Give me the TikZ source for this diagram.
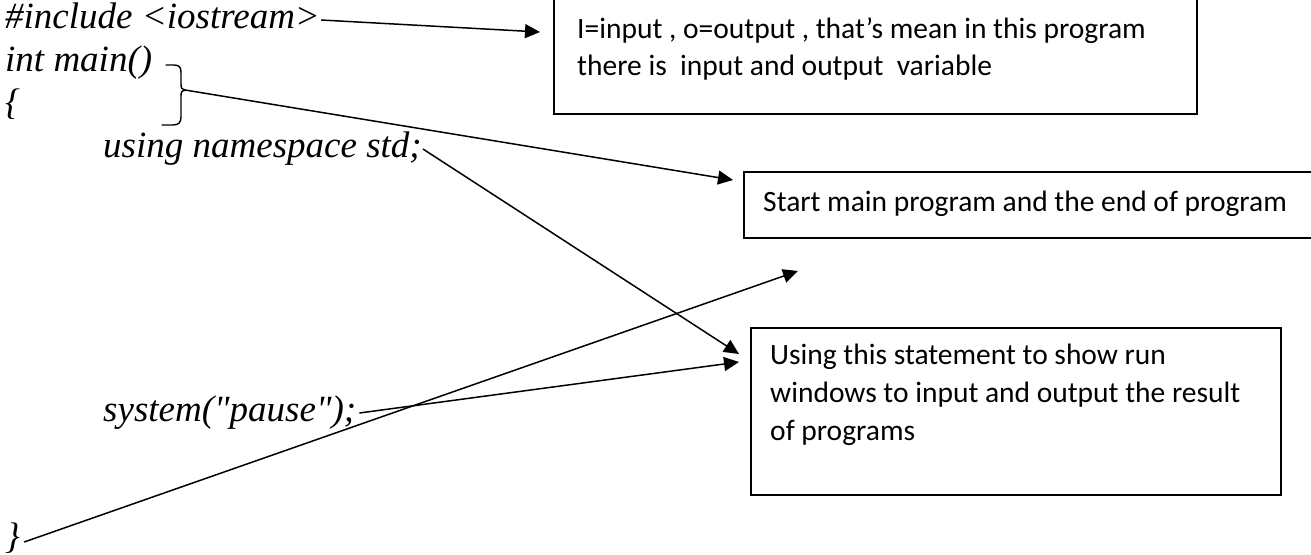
\documentclass[tikz,border=0pt]{standalone}
\usepackage{fontspec}
\setmainfont{Liberation Serif}
\newfontfamily\notefont{Carlito}
\usetikzlibrary{arrows.meta}
\begin{document}
\begin{tikzpicture}[x=1pt,y=-1pt,
  code/.style={font=\fontsize{37}{44}\selectfont\itshape, anchor=base west, inner sep=0pt},
  note/.style={font=\notefont\fontsize{29.5}{36}\selectfont, anchor=base west, inner sep=0pt},
  frame/.style={draw, line width=1.6pt, anchor=north west, inner sep=0pt},
  conn/.style={line width=1.5pt, -{Triangle[length=15pt,width=14pt]}},
]
\useasboundingbox (0,0) rectangle (1311,554);
\fill[white] (0,0) rectangle (1311,554);

% code lines
\node[code] (inc) at (5,28) {\#include <iostream>};
\node[code] (main) at (5,71) {int main()};
\node[code] (open) at (5,114) {\{};
\node[code] (using) at (103,157) {using namespace std;};
\node[code] (sys) at (103,421) {system(\textquotedbl pause\textquotedbl);};
\node[code] (close) at (5,548) {\}};

% brace
\coordinate (tip) at (185,90);
\draw[line width=1.4pt, line cap=round]
  (166,65) -- (174,65) .. controls (180,65) and (181,68) .. (181,73)
  -- (181,84) .. controls (181,88) and (182,90) .. (tip)
  .. controls (182,90) and (181,92) .. (181,96)
  -- (181,117) .. controls (181,122) and (179,125) .. (173,125) -- (162,125);

% boxes
\node[frame, minimum width=643pt, minimum height=118pt] (b1) at (553,-5) {};
\node[frame, minimum width=600pt, minimum height=66pt] (b2) at (743,171) {};
\node[frame, minimum width=530pt, minimum height=167pt] (b3) at (750,327) {};

% notes
\node[note] (n1a) at (577,38) {I=input , o=output , that’s mean in this program};
\node[note] (n1b) at (577,75) {there is\ \ input and output\ \ variable};
\node[note] (n2) at (763,211) {Start main program and the end of program};
\node[note] (n3a) at (770,364) {Using this statement to show run};
\node[note] (n3b) at (770,402) {windows to input and output the result};
\node[note] (n3c) at (770,440) {of programs};

% arrow ends
\coordinate (s1) at ([xshift=1pt,yshift=8pt]inc.base east);
\coordinate (e1) at (540,32);
\coordinate (e2) at (733,180);
\coordinate (s3) at ([xshift=1pt,yshift=8pt]using.base east);
\coordinate (e3) at (739,354);
\coordinate (s4) at ([xshift=3pt,yshift=8pt]sys.base east);
\coordinate (e4) at (739,362);
\coordinate (s5) at ([xshift=4pt,yshift=6pt]close.base east);
\coordinate (e5) at (798,271);

\draw[conn] (s1) -- (e1);
\draw[conn] (tip) -- (e2);
\draw[conn] (s3) -- (e3);
\draw[conn] (s4) -- (e4);
\draw[conn] (s5) -- (e5);
\end{tikzpicture}
\end{document}
